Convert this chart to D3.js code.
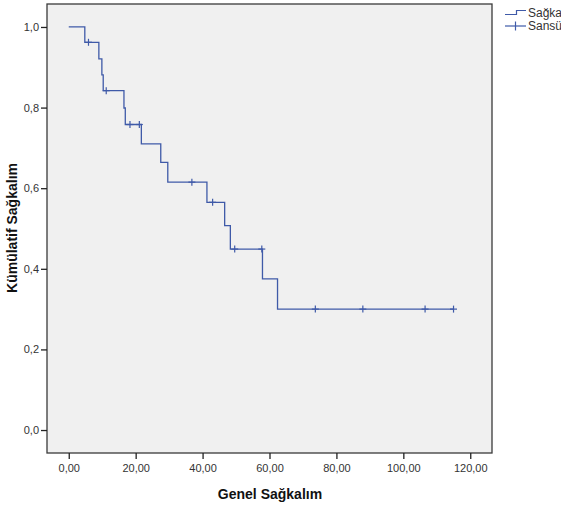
<!DOCTYPE html>
<html>
<head>
<meta charset="utf-8">
<script src="https://cdn.jsdelivr.net/npm/d3@7"></script>
<style>
  html, body { margin: 0; padding: 0; background: #ffffff; overflow: hidden; }
  svg { display: block; font-family: "Liberation Sans", Arial, sans-serif; }
</style>
</head>
<body>
<div id="chart"></div>
<script>
// ========== DATA ==========
const eventTimes = [0, 4.8, 9.0, 9.9, 10.3, 16.5, 16.9, 21.7, 27.5, 29.6, 41.3, 46.6, 48.3, 57.9, 62.4];
const survival   = [1.0, 0.962, 0.921, 0.881, 0.842, 0.799, 0.758, 0.710, 0.664, 0.615, 0.565, 0.507, 0.449, 0.375, 0.300];
const censorTimes = [5.9, 11.2, 18.3, 21.1, 36.8, 43.0, 49.6, 57.7, 73.7, 87.9, 106.5, 115.0];
const xTicks = [0, 20, 40, 60, 80, 100, 120];
const yTicks = [0, 0.2, 0.4, 0.6, 0.8, 1.0];
const legendLabels = ["Sağkalım", "Sansürlü"];

const W = 561, H = 509;
const frame = { left: 47, right: 492, top: 4, bottom: 453 };
const lineColor = "#3f5aa8";
const comma = (v, d) => v.toFixed(d).replace(".", ",");

const svg = d3.select("#chart").append("svg")
  .attr("width", W).attr("height", H);

const x = d3.scaleLinear().domain([-6.5, 126.5]).range([frame.left, frame.right]);
const y = d3.scaleLinear().domain([-0.057, 1.057]).range([frame.bottom, frame.top]);

// Plot background
svg.append("rect")
  .attr("x", frame.left).attr("y", frame.top)
  .attr("width", frame.right - frame.left).attr("height", frame.bottom - frame.top)
  .attr("fill", "#f0f0f0").attr("stroke", "#3a3a3a").attr("stroke-width", 1.3);

// Axes
svg.append("g")
  .attr("transform", `translate(0,${frame.bottom})`)
  .call(d3.axisBottom(x).tickValues(xTicks).tickSize(6).tickPadding(5).tickFormat(d => comma(d, 2)))
  .call(g => g.select(".domain").remove())
  .call(g => g.selectAll("line").attr("stroke", "#222").attr("stroke-width", 1.3))
  .call(g => g.selectAll("text").attr("fill", "#333").attr("font-size", "11px").attr("font-family", "Liberation Sans, Arial, sans-serif"));

svg.append("g")
  .attr("transform", `translate(${frame.left},0)`)
  .call(d3.axisLeft(y).tickValues(yTicks).tickSize(6).tickPadding(2).tickFormat(d => comma(d, 1)))
  .call(g => g.select(".domain").remove())
  .call(g => g.selectAll("line").attr("stroke", "#222").attr("stroke-width", 1.3))
  .call(g => g.selectAll("text").attr("fill", "#333").attr("font-size", "11px").attr("font-family", "Liberation Sans, Arial, sans-serif"));

// Axis titles
svg.append("text")
  .attr("x", 270).attr("y", 499)
  .attr("text-anchor", "middle")
  .attr("font-size", "14px").attr("font-weight", "bold").attr("fill", "#111")
  .text("Genel Sağkalım");

svg.append("text")
  .attr("transform", `translate(17,${228}) rotate(-90)`)
  .attr("text-anchor", "middle")
  .attr("font-size", "14px").attr("font-weight", "bold").attr("fill", "#111")
  .text("Kümülatif Sağkalım");

// Survival step curve
const steps = eventTimes.map((t, i) => ({ t, s: survival[i] }));
const lastT = d3.max(censorTimes);
steps.push({ t: lastT, s: survival[survival.length - 1] });

const survAt = t => {
  let s = survival[0];
  eventTimes.forEach((et, i) => { if (et <= t) s = survival[i]; });
  return s;
};

svg.append("path")
  .datum(steps)
  .attr("fill", "none")
  .attr("stroke", lineColor)
  .attr("stroke-width", 1.3)
  .attr("d", d3.line().x(d => x(d.t)).y(d => y(d.s)).curve(d3.curveStepAfter));

// Censor marks
const cens = svg.selectAll(".cens").data(censorTimes).enter().append("g")
  .attr("transform", d => `translate(${x(d)},${y(survAt(d))})`);
cens.append("line").attr("x1", 0).attr("x2", 0).attr("y1", -3.5).attr("y2", 3.5)
  .attr("stroke", lineColor).attr("stroke-width", 1.2);
cens.append("line").attr("x1", -3.5).attr("x2", 3.5).attr("y1", 0).attr("y2", 0)
  .attr("stroke", lineColor).attr("stroke-width", 1.2);

// Legend
const legend = svg.append("g");
legend.append("path")
  .attr("d", "M505,14.5H516.5V10.5H526")
  .attr("fill", "none").attr("stroke", lineColor).attr("stroke-width", 1.2);
legend.append("line").attr("x1", 505).attr("x2", 526).attr("y1", 26).attr("y2", 26)
  .attr("stroke", lineColor).attr("stroke-width", 1.2);
legend.append("line").attr("x1", 515.5).attr("x2", 515.5).attr("y1", 21.5).attr("y2", 30.5)
  .attr("stroke", lineColor).attr("stroke-width", 1.2);
legendLabels.forEach((lab, i) => {
  legend.append("text")
    .attr("x", 528).attr("y", 13 + i * 13).attr("dy", "0.35em")
    .attr("font-size", "12px").attr("fill", "#333")
    .text(lab);
});
</script>
</body>
</html>
